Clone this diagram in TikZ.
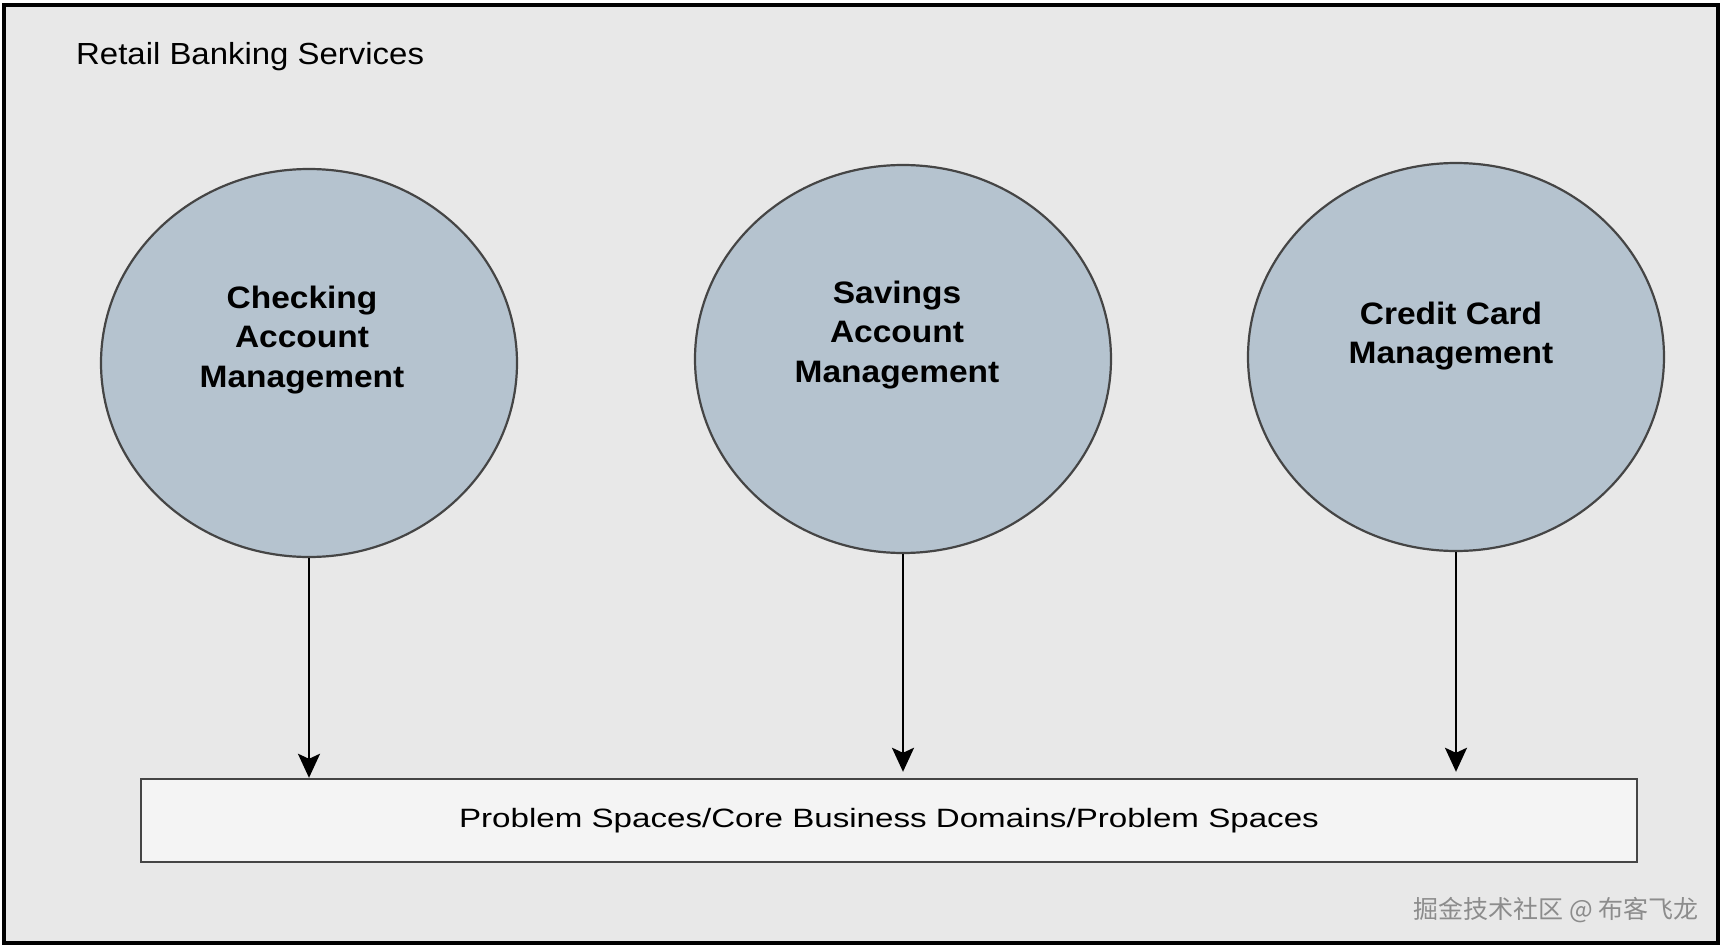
\documentclass[tikz,border=0pt]{standalone}
\usepackage{fontspec}
\setmainfont[FakeStretch=1.08]{Liberation Sans}
\newfontfamily\stripfont[FakeStretch=1.25]{Liberation Sans}
\newfontfamily\cjk{Noto Sans CJK SC}
\usetikzlibrary{
  positioning,
  arrows.meta,
  shapes.geometric
}
\definecolor{panel}{HTML}{E8E8E8}
\definecolor{areafill}{HTML}{B5C3CF}
\definecolor{outline}{HTML}{454545}
\definecolor{stripfill}{HTML}{F4F4F4}
\definecolor{wmgray}{HTML}{8C8C8C}

\begin{document}
\begin{tikzpicture}[
  x=1pt, y=-1pt,
  area/.style={ellipse, draw=outline, line width=2.2pt, fill=areafill,
               minimum width=416pt, minimum height=388pt, inner sep=0pt},
  arealabel/.style={align=center, inner sep=0pt,
                    font=\fontsize{31}{39.5}\selectfont\bfseries},
  strip/.style={draw=outline, line width=2.4pt, fill=stripfill,
                minimum width=1496pt, minimum height=83pt, inner sep=0pt,
                font=\stripfont\fontsize{26.5}{30}\selectfont},
  feed/.style={-{Stealth[length=24pt, width=22pt, inset=5pt]}, line width=2.4pt},
]
  \useasboundingbox (0,0) rectangle (1725,950);
  \draw[line width=3.5pt, fill=panel] (4,5) rectangle (1718,943);

  \node[anchor=base west, inner sep=0pt, font=\fontsize{30.5}{36}\selectfont]
    (title) at (76,65) {Retail Banking Services};

  % subdomains
  \node[area] (chk) at (309,363) {};
  \node[area] (sav) at (903,359) {};
  \node[area] (ccm) at (1456,357) {};

  \node[arealabel] (chk-txt) at ([xshift=-7pt, yshift=23pt]chk.center) {Checking\\Account\\Management};
  \node[arealabel] (sav-txt) at ([xshift=-6pt, yshift=24pt]sav.center) {Savings\\Account\\Management};
  \node[arealabel] (ccm-txt) at ([xshift=-5pt, yshift=21pt]ccm.center) {Credit Card\\Management};

  \node[strip] (core) at (889,820.5) {Problem Spaces/Core Business Domains/Problem Spaces};

  \draw[feed] (chk.south) -- (chk.south |- core.north);
  \draw[feed, shorten >=6pt] (sav.south) -- (sav.south |- core.north);
  \draw[feed, shorten >=6pt] (ccm.south) -- (ccm.south |- core.north);

  \node[font=\cjk\fontsize{25}{30}\selectfont, text=wmgray, inner sep=0pt]
    (wm) at (1556,910) {掘金技术社区 @ 布客飞龙};
\end{tikzpicture}
\end{document}
